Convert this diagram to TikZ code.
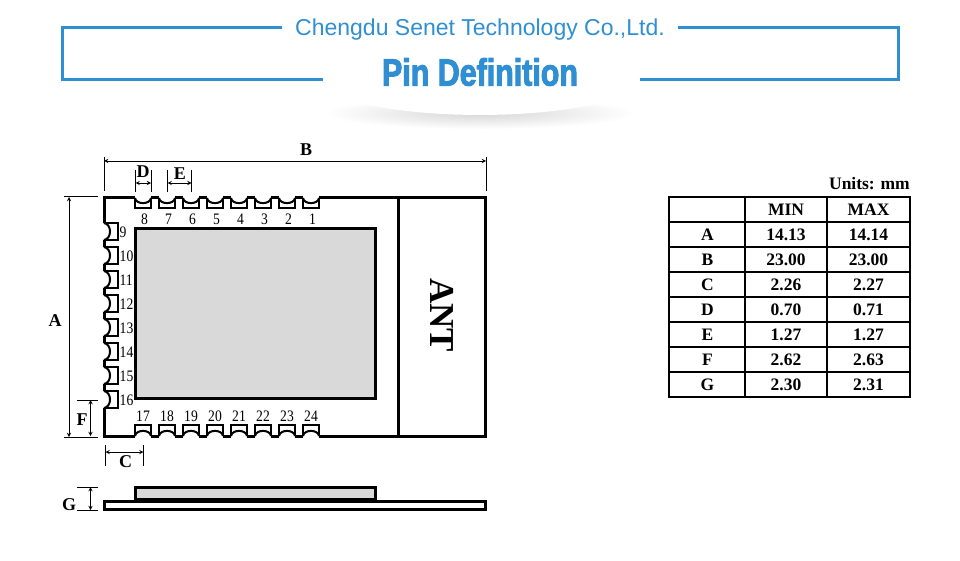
\documentclass[tikz,border=0pt]{standalone}
\usepackage{fontspec}
\usepackage{xcolor}
\setmainfont{Liberation Serif}
\newfontfamily\pinfont[FakeStretch=0.85]{Liberation Serif}
\newfontfamily\headfont{Liberation Sans}
\newfontfamily\titlefont[FakeStretch=0.8,FakeBold=2.5]{Liberation Sans Bold}
\definecolor{senetblue}{HTML}{2F8FD2}
\definecolor{padgray}{HTML}{D9D9D9}
\tikzset{
	board/.style={line width=3pt, line join=miter},
	pad/.style={line width=2pt},
	dimline/.style={line width=0.9pt, <->, >=stealth},
	extline/.style={line width=0.9pt},
	dimlabel/.style={font=\fontsize{18}{18}\selectfont\bfseries, inner sep=0pt},
	pinlabel/.style={font=\fontsize{16}{16}\pinfont, inner sep=0pt},
	cell/.style={font=\fontsize{17.5}{17.5}\selectfont\bfseries, inner sep=0pt}
}
\begin{document}
\begin{tikzpicture}[x=1pt, y=-1pt]
	\useasboundingbox (0,0) rectangle (960,561);
	% 标题
	\shade[inner color=black!16, outer color=white] (480,113) ellipse [x radius=155, y radius=16];
	\fill[white] (480,60) ellipse [x radius=194, y radius=55];
	\draw[senetblue, line width=3pt] (282,28) -- (62,28) -- (62,80) -- (323,80);
	\draw[senetblue, line width=3pt] (678,28) -- (898,28) -- (898,80) -- (640,80);
	\node[inner sep=0pt, text=senetblue, font=\fontsize{23}{23}\headfont] (company) at (480,30) {Chengdu Senet Technology Co.,Ltd.};
	\node[inner sep=0pt, text=senetblue, font=\fontsize{38}{38}\titlefont] (title) at (480,72) {Pin Definition};
	% 灰色区域
	\draw[board, fill=padgray] (135,229) rectangle (375.5,398);
	% 板框
	\draw[board] (135,198) -- (104,198) -- (104,223);
	\draw[board] (319,198) -- (485,198) -- (485,436) -- (319,436);
	\draw[board] (135,436) -- (104,436) -- (104,408);
	\draw[board] (398,198) -- (398,436);
	\foreach \i [evaluate=\i as \x using 151+24*\i] in {0,...,6} {
		\draw[board] (\x,198) -- (\x+8,198);
		\draw[board] (\x,436) -- (\x+8,436);
	}
	\foreach \i [evaluate=\i as \y using 240+24*\i] in {0,...,6} {
		\draw[board] (104,\y) -- (104,\y+7);
	}
	% 引脚
	\foreach \i [evaluate=\i as \x using 135+24*\i] in {0,...,7} {
		\draw[pad] (\x,198) .. controls (\x+1,204.8) and (\x+15,204.8) .. (\x+16,198);
		\draw[pad] (\x,436) .. controls (\x+1,429.2) and (\x+15,429.2) .. (\x+16,436);
		\draw[pad] (\x,198) -- (\x,208.5) -- (\x+16,208.5) -- (\x+16,198);
		\draw[pad] (\x,436) -- (\x,425) -- (\x+16,425) -- (\x+16,436);
	}
	\foreach \i [evaluate=\i as \y using 223+24*\i] in {0,...,7} {
		\draw[pad] (104,\y) .. controls (112,\y+1) and (112,\y+16) .. (104,\y+17);
		\draw[pad] (104,\y) -- (117.5,\y) -- (117.5,\y+17) -- (104,\y+17);
	}
	% 引脚编号
	\foreach \n [count=\i from 0, evaluate=\i as \x using 144.5+24*\i] in {8,7,...,1} {
		\node[pinlabel] (pin\n) at (\x,219) {\n};
	}
	\foreach \n [count=\i from 0, evaluate=\i as \y using 232.5+24*\i] in {9,...,16} {
		\node[pinlabel, anchor=west] (pin\n) at (119.5,\y) {\n};
	}
	\foreach \n [count=\i from 0, evaluate=\i as \x using 143+24*\i] in {17,...,24} {
		\node[pinlabel] (pin\n) at (\x,416) {\n};
	}
	\node[inner sep=0pt, rotate=-90, font=\fontsize{35}{35}\selectfont\bfseries] (ant) at (442,315) {ANT};
	% 侧视图
	\draw[board, fill=padgray] (135,487) rectangle (375.5,499);
	\draw[board] (104,501) rectangle (485,509);
	% 尺寸线端点
	\coordinate (bl) at (104,161);
	\coordinate (br) at (486,161);
	\coordinate (dl) at (135.5,183);
	\coordinate (dr) at (151,183);
	\coordinate (el) at (167.5,183);
	\coordinate (er) at (191.5,183);
	\coordinate (at) at (69,197);
	\coordinate (ab) at (69,437);
	\coordinate (ft) at (90.5,400);
	\coordinate (fb) at (90.5,436);
	\coordinate (cl) at (105.5,452);
	\coordinate (cr) at (143.5,452);
	\coordinate (gt) at (90.5,487);
	\coordinate (gb) at (90.5,510);
	% 尺寸线
	\draw[dimline] (bl) -- (br);
	\draw[dimline] (dl) -- (dr);
	\draw[dimline] (el) -- (er);
	\draw[dimline] (at) -- (ab);
	\draw[dimline] (ft) -- (fb);
	\draw[dimline] (cl) -- (cr);
	\draw[dimline] (gt) -- (gb);
	% 界线
	\draw[extline] (104,157) -- (104,191);
	\draw[extline] (486,157) -- (486,191);
	\foreach \x in {135.5,151,167.5,191.5} {
		\draw[extline] (\x,170) -- (\x,192);
	}
	\draw[extline] (64,196.5) -- (98,196.5);
	\draw[extline] (64,437) -- (98,437);
	\draw[extline] (77,400) -- (98,400);
	\draw[extline] (105.5,445) -- (105.5,466);
	\draw[extline] (143.5,445) -- (143.5,466);
	\draw[extline] (77,487) -- (98,487);
	\draw[extline] (77,510) -- (98,510);
	% 尺寸标注
	\node[dimlabel] (labelB) at (306,150) {B};
	\node[dimlabel] (labelD) at (143,172) {D};
	\node[dimlabel] (labelE) at (180,173.5) {E};
	\node[dimlabel] (labelA) at (55,321) {A};
	\node[dimlabel] (labelF) at (82,420) {F};
	\node[dimlabel] (labelC) at (125.5,462) {C};
	\node[dimlabel] (labelG) at (69,505) {G};
	% 表格
	\draw[pad] (669,197) rectangle (910,397);
	\foreach \x in {745,827} {
		\draw[pad] (\x,197) -- (\x,397);
	}
	\foreach \y in {222,247,...,372} {
		\draw[pad] (669,\y) -- (910,\y);
	}
	\node[cell, anchor=east] (units) at (910,184) {Units: mm};
	\node[cell] (headMin) at (786,210) {MIN};
	\node[cell] (headMax) at (868.5,210) {MAX};
	\foreach \n/\lo/\hi [count=\i from 0, evaluate=\i as \y using 235+25*\i] in
		{A/14.13/14.14, B/23.00/23.00, C/2.26/2.27, D/0.70/0.71, E/1.27/1.27, F/2.62/2.63, G/2.30/2.31} {
		\node[cell] (name\n) at (707.5,\y) {\n};
		\node[cell] (min\n) at (786,\y) {\lo};
		\node[cell] (max\n) at (868.5,\y) {\hi};
	}
\end{tikzpicture}
\end{document}
